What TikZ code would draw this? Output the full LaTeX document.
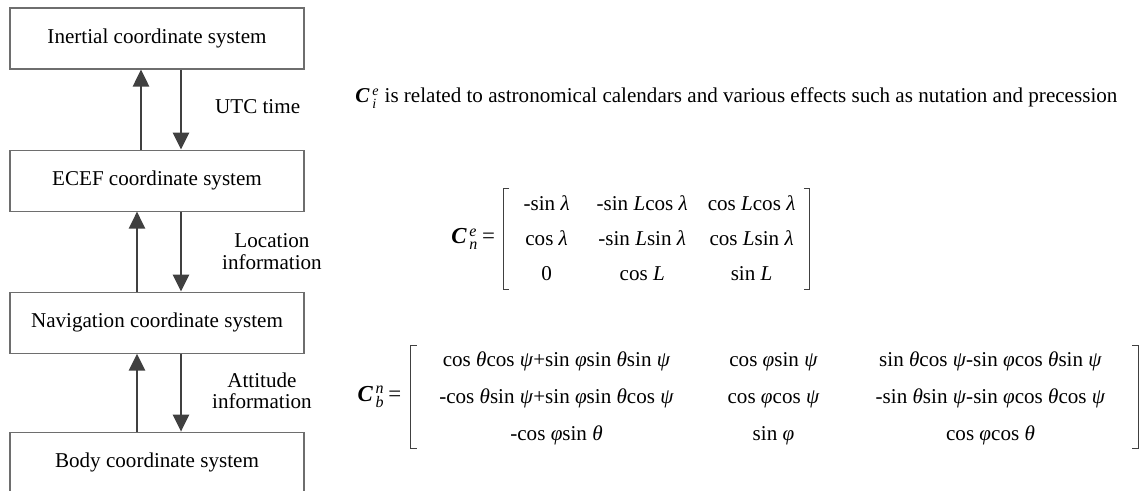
\documentclass[tikz,border=0pt]{standalone}
\usepackage{fontspec}
\setmainfont{Liberation Serif}
\usepackage{amsmath}
\usetikzlibrary{arrows.meta, positioning, matrix}
\definecolor{frame}{RGB}{110,110,110}
\definecolor{arrowgray}{RGB}{64,64,64}

\begin{document}
\begin{tikzpicture}[
    node distance=1.6cm,
    sysbox/.style={rectangle, minimum width=5.88cm, minimum height=1.22cm, text centered, font=\fontsize{12}{14}\selectfont, draw=frame, line width=0.6pt},
    arr/.style={-{Triangle[length=3.4mm, width=3.2mm]}, line width=1.5pt, arrowgray},
    lbl/.style={font=\fontsize{12}{12}\selectfont, align=center, text=black},
    txt/.style={font=\fontsize{12}{14}\selectfont, inner sep=0pt},
    mat/.style={matrix of nodes, inner sep=0pt, nodes={inner sep=0pt, text height=2.2ex, text depth=.6ex, font=\fontsize{12}{14}\selectfont}},
    brk/.style={line width=0.6pt, black!75},
]
\useasboundingbox (0,0) rectangle (22.84,-9.82);

% frames
\node[sysbox] (inertial) at (3.14,-0.77) {Inertial coordinate system};
\node[sysbox, below=of inertial] (ecef) {ECEF coordinate system};
\node[sysbox, below=of ecef] (nav) {Navigation coordinate system};
\node[sysbox, below=1.56cm of nav] (body) {Body coordinate system};

% transitions
\draw[arr] ([xshift=-0.32cm]ecef.north) -- ([xshift=-0.32cm]inertial.south);
\draw[arr] ([xshift=0.48cm]inertial.south) -- node[lbl, right=0.54cm, yshift=0.06cm] {UTC time} ([xshift=0.48cm]ecef.north);
\draw[arr] ([xshift=-0.4cm]nav.north) -- ([xshift=-0.4cm]ecef.south);
\draw[arr] ([xshift=0.48cm]ecef.south) -- node[lbl, right=0.68cm] {Location\\information} ([xshift=0.48cm]nav.north);
\draw[arr] ([xshift=-0.4cm]body.north) -- ([xshift=-0.4cm]nav.south);
\draw[arr] ([xshift=0.48cm]nav.south) -- node[lbl, right=0.48cm, yshift=0.04cm] {Attitude\\information} ([xshift=0.48cm]body.north);

% note
\node[txt, anchor=base west] (note) at (7.1,-2.06) {\textbf{\textit{C}}\kern1.5pt$^{\textit{e}}_{\textit{i}}$\ is related to astronomical calendars and various effects such as nutation and precession};

% C_n^e
\matrix[mat, column sep=0.4cm, row sep=0.25cm,
    column 1/.style={nodes={minimum width=1.2cm}},
    column 2/.style={nodes={minimum width=1.6cm}},
    column 3/.style={nodes={minimum width=1.6cm}}] (cne) at (13.12,-4.78) {
  -sin \textit{λ} & -sin \textit{L}cos \textit{λ} & cos \textit{L}cos \textit{λ} \\
  cos \textit{λ} & -sin \textit{L}sin \textit{λ} & cos \textit{L}sin \textit{λ} \\
  0 & cos \textit{L} & sin \textit{L} \\
};
\draw[brk] ([xshift=-0.14cm, yshift=0.08cm]cne.north west) -- ([xshift=-0.26cm, yshift=0.08cm]cne.north west)
  -- ([xshift=-0.26cm, yshift=-0.08cm]cne.south west) -- ([xshift=-0.14cm, yshift=-0.08cm]cne.south west);
\draw[brk] ([xshift=0.16cm, yshift=0.08cm]cne.north east) -- ([xshift=0.28cm, yshift=0.08cm]cne.north east)
  -- ([xshift=0.28cm, yshift=-0.08cm]cne.south east) -- ([xshift=0.16cm, yshift=-0.08cm]cne.south east);
\node[txt, anchor=east, font=\fontsize{13}{15}\selectfont] (cnelbl) at ([xshift=-0.42cm]cne.west) {\textbf{\textit{C}}\kern1.5pt$^{\textit{e}}_{\textit{n}}$\,=};

% C_b^n
\matrix[mat, column sep=0.94cm, row sep=0.28cm,
    column 1/.style={nodes={minimum width=4.8cm}},
    column 2/.style={nodes={minimum width=2cm}},
    column 3/.style={nodes={minimum width=4.8cm}}] (cbn) at (15.47,-7.94) {
  cos \textit{θ}cos \textit{ψ}+sin \textit{φ}sin \textit{θ}sin \textit{ψ} & cos \textit{φ}sin \textit{ψ} & sin \textit{θ}cos \textit{ψ}-sin \textit{φ}cos \textit{θ}sin \textit{ψ} \\
  -cos \textit{θ}sin \textit{ψ}+sin \textit{φ}sin \textit{θ}cos \textit{ψ} & cos \textit{φ}cos \textit{ψ} & -sin \textit{θ}sin \textit{ψ}-sin \textit{φ}cos \textit{θ}cos \textit{ψ} \\
  -cos \textit{φ}sin \textit{θ} & sin \textit{φ} & cos \textit{φ}cos \textit{θ} \\
};
\draw[brk] ([xshift=-0.39cm, yshift=0.06cm]cbn.north west) -- ([xshift=-0.51cm, yshift=0.06cm]cbn.north west)
  -- ([xshift=-0.51cm, yshift=-0.06cm]cbn.south west) -- ([xshift=-0.39cm, yshift=-0.06cm]cbn.south west);
\draw[brk] ([xshift=0.43cm, yshift=0.06cm]cbn.north east) -- ([xshift=0.55cm, yshift=0.06cm]cbn.north east)
  -- ([xshift=0.55cm, yshift=-0.06cm]cbn.south east) -- ([xshift=0.43cm, yshift=-0.06cm]cbn.south east);
\node[txt, anchor=east, font=\fontsize{13}{15}\selectfont] (cbnlbl) at ([xshift=-0.69cm]cbn.west) {\textbf{\textit{C}}\kern1.5pt$^{\textit{n}}_{\textit{b}}$\,=};

\end{tikzpicture}
\end{document}
